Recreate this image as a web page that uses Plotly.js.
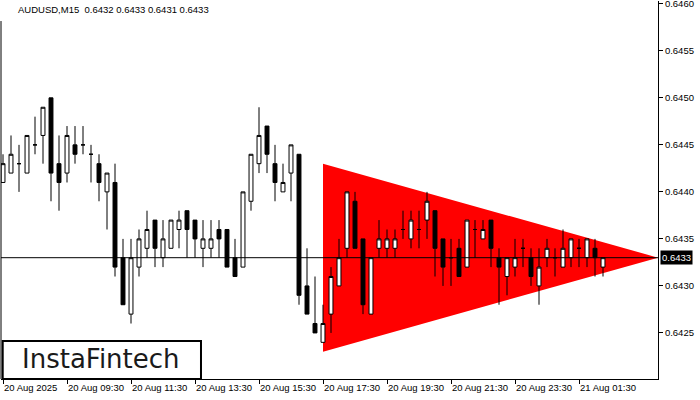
<!DOCTYPE html>
<html><head><meta charset="utf-8">
<script src="https://cdn.plot.ly/plotly-3.0.1.min.js"></script>
<style>html,body{margin:0;padding:0;background:#fff}#chart{width:700px;height:400px}</style>
</head><body><div id="chart"></div>
<script>
const symbolTitle = 'AUDUSD,M15  0.6432 0.6433 0.6431 0.6433';
const openP  = [0.6441,0.6442,0.6443,0.6442,0.6445,0.6446,0.6450,0.6443,0.6442,0.6445,
                0.6445,0.6444,0.6443,0.6440,0.6441,0.6433,0.6427,0.6432,0.6434,0.6437,
                0.6433,0.6434,0.6436,0.6438,0.6437,0.6434,0.6434,0.6436,0.6436,0.6433,
                0.6432,0.6439,0.6443,0.6447,0.6443,0.6440,0.6442,0.6444,0.6430,0.6426,
                0.6424,0.6427,0.6430,0.6434,0.6439,0.6435,0.6427,0.6434,0.6434,0.6434,
                0.6436,0.6435,0.6436,0.6437,0.6438,0.6435,0.6433,0.6434,0.6432,0.6436,
                0.6435,0.6437,0.6433,0.6431,0.6432,0.6434,0.6433,0.6430,0.6433,0.6433,
                0.6432,0.6433,0.6434,0.6433,0.6434,0.6432];
const highP  = [0.6444,0.6446,0.6445,0.6446,0.6448,0.6449,0.6450,0.6446,0.6447,0.6447,
                0.6447,0.6445,0.6444,0.6442,0.6443,0.6435,0.6435,0.6436,0.6438,0.6437,
                0.6437,0.6437,0.6438,0.6438,0.6437,0.6437,0.6437,0.6437,0.6436,0.6435,
                0.6440,0.6444,0.6449,0.6447,0.6445,0.6443,0.6445,0.6444,0.6434,0.6431,
                0.6428,0.6432,0.6435,0.6440,0.6440,0.6435,0.6433,0.6437,0.6436,0.6436,
                0.6438,0.6438,0.6438,0.6440,0.6438,0.6435,0.6435,0.6435,0.6437,0.6437,
                0.6437,0.6437,0.6434,0.6433,0.6435,0.6435,0.6434,0.6434,0.6435,0.6434,
                0.6436,0.6435,0.6435,0.6435,0.6435,0.6433];
const lowP   = [0.6441,0.6442,0.6440,0.6442,0.6444,0.6443,0.6439,0.6438,0.6441,0.6443,
                0.6444,0.6441,0.6439,0.6436,0.6431,0.6428,0.6426,0.6431,0.6433,0.6432,
                0.6432,0.6434,0.6434,0.6433,0.6433,0.6432,0.6433,0.6433,0.6432,0.6431,
                0.6432,0.6438,0.6442,0.6442,0.6439,0.6440,0.6439,0.6428,0.6427,0.6425,
                0.6424,0.6425,0.6430,0.6433,0.6434,0.6427,0.6427,0.6433,0.6433,0.6433,
                0.6435,0.6434,0.6434,0.6435,0.6431,0.6430,0.6430,0.6431,0.6432,0.6433,
                0.6435,0.6432,0.6428,0.6429,0.6431,0.6432,0.6430,0.6428,0.6432,0.6431,
                0.6432,0.6432,0.6432,0.6432,0.6431,0.6431];
const closeP = [0.6443,0.6444,0.6443,0.6446,0.6445,0.6449,0.6442,0.6441,0.6446,0.6444,
                0.6445,0.6444,0.6441,0.6442,0.6432,0.6428,0.6433,0.6435,0.6436,0.6434,
                0.6435,0.6437,0.6437,0.6436,0.6435,0.6435,0.6435,0.6435,0.6432,0.6431,
                0.6440,0.6444,0.6446,0.6444,0.6441,0.6441,0.6445,0.6429,0.6427,0.6425,
                0.6426,0.6431,0.6433,0.6440,0.6434,0.6428,0.6433,0.6435,0.6435,0.6435,
                0.6436,0.6437,0.6436,0.6439,0.6434,0.6432,0.6433,0.6431,0.6437,0.6436,
                0.6436,0.6434,0.6432,0.6433,0.6433,0.6434,0.6431,0.6432,0.6434,0.6433,
                0.6434,0.6435,0.6434,0.6435,0.6433,0.6433];
const tickPos  = [0, 8, 16, 24, 32, 40, 48, 56, 64, 72];
const tickText = ['20 Aug 2025','20 Aug 09:30','20 Aug 11:30','20 Aug 13:30','20 Aug 15:30',
                  '20 Aug 17:30','20 Aug 19:30','20 Aug 21:30','20 Aug 23:30','21 Aug 01:30'];
const priceTicks = [0.6425, 0.6430, 0.6435, 0.6440, 0.6445, 0.6450, 0.6455, 0.6460];
const patternX = [40, 40, 81.9];
const patternY = [0.6443, 0.6423, 0.6433];
const logoText = 'InstaFintech';

const barX = openP.map((_, i) => i);
const lastClose = closeP[closeP.length - 1];
const axisFont = {family: 'Liberation Sans, Arial, sans-serif', size: 9.5, color: '#000'};
const trianglePath = patternX.map((x, i) => (i ? 'L' : 'M') + x + ',' + patternY[i]).join(' ') + ' Z';

const traces = [
  {type: 'candlestick', x: barX, open: openP, high: highP, low: lowP, close: closeP,
   whiskerwidth: 0,
   increasing: {line: {color: '#000', width: 1}, fillcolor: '#fff'},
   decreasing: {line: {color: '#000', width: 1}, fillcolor: '#000'},
   hoverinfo: 'skip'}
];

const layout = {
  width: 700, height: 400,
  margin: {l: 1, r: 42, t: 1, b: 21},
  paper_bgcolor: '#fff', plot_bgcolor: '#fff', showlegend: false,
  title: {text: symbolTitle, xref: 'container', yref: 'container', x: 18/700, xanchor: 'left',
          y: 1 - 10/400, yanchor: 'middle', font: axisFont},
  xaxis: {range: [-0.25, 81.875], tickvals: tickPos, ticktext: tickText, ticks: 'outside',
          ticklen: 4, tickcolor: '#000', showline: true, linecolor: '#000', linewidth: 1,
          showgrid: false, zeroline: false, rangeslider: {visible: false}, tickangle: 0,
          ticklabelposition: 'outside right', tickfont: axisFont, fixedrange: true},
  yaxis: {side: 'right', range: [0.64201, 0.64603], tickvals: priceTicks,
          tickformat: '.4f', ticks: 'outside', ticklen: 4, tickcolor: '#000',
          showline: true, linecolor: '#000', linewidth: 1, showgrid: false, zeroline: false,
          ticklabeloverflow: 'allow', tickfont: axisFont, fixedrange: true},
  shapes: [
    {type: 'path', xref: 'x', yref: 'y', path: trianglePath, fillcolor: '#ff0000',
     line: {width: 0}, layer: 'below'},
    {type: 'line', xref: 'paper', yref: 'y', x0: 0, x1: 1, y0: lastClose, y1: lastClose,
     line: {color: '#000', width: 1}, layer: 'above'},
    {type: 'line', xref: 'paper', yref: 'paper', x0: 0, x1: 0, y0: 0, y1: 0.947,
     line: {color: '#000', width: 1}, layer: 'above'},
    {type: 'rect', xref: 'paper', yref: 'paper', x0: 0.0026, x1: 0.3044, y0: 0, y1: 0.1005,
     line: {color: '#000', width: 2}, fillcolor: '#fff', layer: 'above'}
  ],
  annotations: [
    {xref: 'paper', yref: 'y', x: 1, y: lastClose, xanchor: 'left', yanchor: 'middle', xshift: 2,
     text: lastClose.toFixed(4), showarrow: false, bgcolor: '#000', borderpad: 1,
     font: {family: 'Liberation Sans, Arial, sans-serif', size: 9.5, color: '#fff'}},
    {xref: 'paper', yref: 'paper', x: 0.1528, y: 0.053, xanchor: 'center', yanchor: 'middle',
     text: logoText, showarrow: false,
     font: {family: 'DejaVu Sans, sans-serif', size: 26, color: '#1a1a1a'}}
  ]
};

Plotly.newPlot('chart', traces, layout, {staticPlot: true, displayModeBar: false});
</script>
</body></html>
